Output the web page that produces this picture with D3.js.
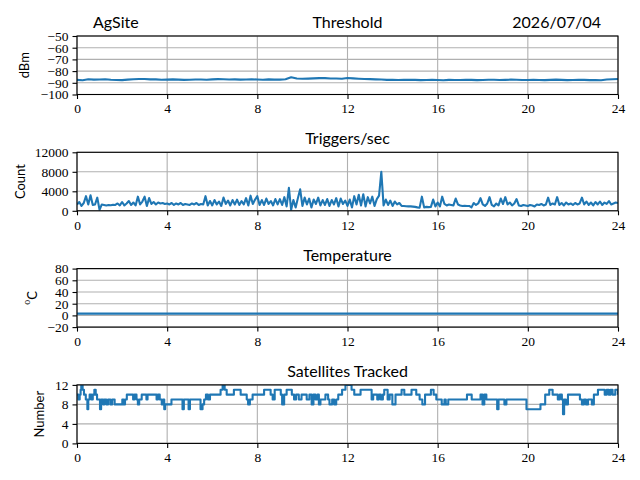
<!DOCTYPE html>
<html>
<head>
<meta charset="utf-8">
<script src="https://cdn.jsdelivr.net/npm/d3@7/dist/d3.min.js"></script>
<style>
  body { margin: 0; background: #fff; }
  svg { display: block; }
</style>
</head>
<body>
<div id="wrapper"></div>
<script>
// ---- data (hours of the day) ----
const siteName = "AgSite";
const dateLabel = "2026/07/04";
const hourTicks = [0, 4, 8, 12, 16, 20, 24];

// threshold, every 0.25 h
const thresholdStep = 0.25;
const thresholdValues = [
  -87.5, -87.8, -87.0, -87.3, -87.2, -87.0, -87.4, -87.6, -87.7, -87.3,
  -87.0, -86.7, -86.8, -87.1, -87.1, -87.4, -87.3, -87.1, -87.3, -87.5,
  -87.4, -87.2, -87.2, -87.4, -87.1, -86.9, -87.0, -87.2, -87.1, -87.3,
  -87.2, -87.0, -87.2, -87.4, -87.1, -87.3, -87.3, -86.9, -85.2, -86.3,
  -86.6, -86.4, -86.2, -86.0, -86.0, -86.3, -86.3, -86.6, -85.9, -86.2,
  -86.5, -86.8, -86.9, -87.1, -87.2, -87.5, -87.4, -87.6, -87.5, -87.4,
  -87.5, -87.7, -87.6, -87.4, -87.6, -87.8, -87.5, -87.6, -87.6, -87.4,
  -87.5, -87.7, -87.6, -87.4, -87.4, -87.6, -87.5, -87.3, -87.4, -87.6,
  -87.6, -87.4, -87.6, -87.7, -87.5, -87.3, -87.5, -87.7, -87.6, -87.4,
  -87.5, -87.7, -87.6, -87.8, -87.2, -87.0, -86.7
];

// triggers/sec, every 0.1 h
const triggerStep = 0.1;
const triggerValues = [
  1300, 1800, 1000, 1600, 3000, 1300, 3200, 1200, 1300, 2700,
  200, 1300, 1200, 1100, 1200, 1150, 1250, 1200, 1500, 1100,
  1800, 1100, 1500, 2000, 1200, 1700, 1100, 2900, 1300, 1900,
  2900, 1000, 2600, 1400, 1800, 1300, 1700, 1500, 1600, 1400,
  1500, 1300, 1600, 1200, 1500, 1300, 1600, 1200, 1400, 1300,
  1200, 1500, 1300, 1600, 1200, 1400, 1300, 3000, 1100, 2000,
  1100, 2200, 1300, 1900, 1000, 2700, 1400, 2100, 1100, 2200,
  1300, 2300, 1200, 2000, 1300, 2600, 1100, 3100, 1400, 2300,
  3000, 1200, 2200, 1200, 2500, 1400, 2000, 1100, 2400, 1300,
  2400, 1200, 2800, 900, 4700, 200, 2200, 700, 2600, 4400,
  1000, 2700, 1300, 2500, 700, 2300, 1400, 2700, 1100, 2200,
  1200, 2400, 1000, 2200, 1300, 2600, 900, 2500, 1400, 2100,
  1000, 2300, 700, 3000, 1300, 3300, 1100, 3400, 900, 2800,
  1500, 2900, 1000, 2400, 3100, 8000, 1100, 2300, 1200, 2100,
  1000, 1900, 1300, 1600, 1000, 1000, 950, 900, 900, 850,
  800, 700, 650, 2900, 700, 800, 750, 800, 2300, 900,
  1700, 900, 2900, 1400, 1100, 1300, 1200, 1100, 2500, 1300,
  1100, 1000, 1050, 1000, 1000, 700, 1600, 1200, 1500, 2600,
  1300, 1000, 1500, 2800, 1200, 900, 1500, 1100, 2500, 1400,
  2800, 1300, 1700, 1100, 1500, 2400, 1100, 1000, 1200, 1100,
  1000, 1200, 1100, 900, 1300, 1200, 1400, 1100, 1300, 2700,
  1200, 1500, 1300, 2800, 1200, 1600, 1100, 1700, 1300, 1500,
  1200, 1600, 1300, 1500, 2700, 1300, 1900, 1200, 1700, 1100,
  1800, 1300, 1900, 1200, 1700, 1400, 2000, 1300, 1500, 1700,
  1600
];

// temperature, hourly
const tempStep = 1;
const tempValues = [
  3, 3, 3, 3, 3, 3, 3, 3, 3, 3, 3, 3, 3,
  3, 3, 3, 3, 3, 3, 3, 3, 3, 3, 3, 3
];

// satellites tracked: [hour the count changes, count]
const satChanges = [
  [0.00, 10], [0.06, 9], [0.12, 10], [0.16, 11], [0.19, 12], [0.25, 11], [0.31, 10],
  [0.39, 9], [0.46, 7], [0.50, 9], [0.56, 10], [0.64, 9], [0.70, 10], [0.77, 11],
  [0.83, 10], [0.89, 9], [1.02, 7], [1.07, 9], [1.16, 8], [1.21, 9], [1.30, 8],
  [1.38, 9], [1.48, 8], [1.56, 9], [1.67, 8], [2.01, 9], [2.07, 8], [2.13, 9],
  [2.21, 10], [2.49, 9], [2.55, 10], [2.64, 9], [2.70, 8], [2.76, 9], [2.87, 10],
  [3.08, 9], [3.13, 10], [3.53, 9], [3.59, 10], [3.67, 9], [3.76, 8], [3.82, 9],
  [3.87, 7], [3.91, 8], [4.19, 9], [4.68, 7], [4.74, 9], [4.95, 7], [5.01, 9],
  [5.48, 7], [5.57, 8], [5.64, 9], [5.72, 10], [5.81, 9], [5.90, 10], [6.37, 11],
  [6.46, 12], [6.55, 11], [6.64, 10], [6.96, 11], [7.26, 10], [7.53, 9], [7.59, 8],
  [7.67, 9], [7.79, 10], [8.30, 11], [8.59, 10], [8.68, 9], [8.77, 11], [9.04, 10],
  [9.10, 8], [9.19, 10], [9.30, 11], [9.53, 10], [9.63, 9], [9.72, 10], [9.84, 9],
  [9.96, 10], [10.19, 9], [10.31, 10], [10.41, 8], [10.49, 10], [10.58, 9], [10.67, 10],
  [10.73, 8], [10.80, 9], [11.02, 10], [11.14, 9], [11.20, 8], [11.32, 9], [11.41, 8],
  [11.50, 9], [11.59, 10], [11.76, 11], [11.91, 12], [12.18, 11], [12.30, 10], [12.58, 11],
  [13.07, 9], [13.14, 10], [13.32, 9], [13.39, 10], [13.48, 9], [13.57, 10], [13.63, 11],
  [13.78, 9], [13.87, 10], [13.99, 8], [14.13, 10], [14.40, 11], [14.52, 10], [14.84, 11],
  [15.05, 10], [15.20, 9], [15.32, 8], [15.44, 10], [15.70, 11], [15.82, 10], [15.94, 9],
  [16.18, 8], [16.30, 9], [16.36, 8], [16.47, 9], [17.30, 10], [17.51, 9], [17.90, 10],
  [17.99, 8], [18.07, 10], [18.16, 9], [18.64, 7], [18.70, 9], [18.96, 8], [19.05, 9],
  [19.94, 7], [20.56, 8], [20.77, 10], [20.95, 11], [21.10, 10], [21.33, 9], [21.42, 10],
  [21.51, 9], [21.56, 6], [21.61, 9], [21.69, 8], [21.78, 10], [22.31, 9], [22.40, 8],
  [22.49, 9], [22.58, 8], [22.67, 9], [22.84, 8], [22.93, 10], [23.11, 11], [23.41, 10],
  [23.50, 11], [23.59, 10], [23.67, 11], [23.76, 10], [23.88, 11], [24.00, 10]
];

// ---- panels ----
const toSeries = (values, step) => values.map((v, i) => ({ h: i * step, v: v }));

const panels = [
  { title: "Threshold", ylabel: "dBm", domain: [-100, -50], ticks: [-100, -90, -80, -70, -60, -50],
    data: toSeries(thresholdValues, thresholdStep), labelX: 25, step: false },
  { title: "Triggers/sec", ylabel: "Count", domain: [0, 12000], ticks: [0, 4000, 8000, 12000],
    data: toSeries(triggerValues, triggerStep), labelX: 21, step: false },
  { title: "Temperature", ylabel: "°C", domain: [-20, 80], ticks: [-20, 0, 20, 40, 60, 80],
    data: toSeries(tempValues, tempStep), labelX: 31, step: false },
  { title: "Satellites Tracked", ylabel: "Number", domain: [0, 12], ticks: [0, 4, 8, 12],
    data: satChanges.map(d => ({ h: d[0], v: d[1] })), labelX: 40, step: true }
];

const dimension = {
  width: 640,
  height: 480,
  left: 77,
  right: 618,
  firstTop: 36,
  panelHeight: 58.5,
  panelGap: 116.3
};

const tickFont = "'Liberation Serif', 'Times New Roman', serif";
const sansFont = "Lato, 'Liberation Sans', sans-serif";
const lineColor = "#1f77b4";

const svg = d3.select("#wrapper").append("svg")
  .attr("width", dimension.width)
  .attr("height", dimension.height);

const xScaler = d3.scaleLinear()
  .domain([0, 24])
  .range([dimension.left, dimension.right]);

const fmt = v => (v < 0 ? "\u2212" + Math.abs(v) : String(v));

panels.forEach((p, i) => {
  const top = dimension.firstTop + i * dimension.panelGap;
  const bottom = top + dimension.panelHeight;

  const yScaler = d3.scaleLinear().domain(p.domain).range([bottom, top]);

  const g = svg.append("g");

  // grid
  g.append("g").selectAll("line").data(hourTicks).join("line")
    .attr("x1", d => xScaler(d)).attr("x2", d => xScaler(d))
    .attr("y1", top).attr("y2", bottom)
    .attr("stroke", "#b0b0b0").attr("stroke-width", 1.1);
  g.append("g").selectAll("line").data(p.ticks).join("line")
    .attr("x1", dimension.left).attr("x2", dimension.right)
    .attr("y1", d => yScaler(d)).attr("y2", d => yScaler(d))
    .attr("stroke", "#b0b0b0").attr("stroke-width", 1.1);

  // data line, clipped to the axes box
  const clipId = "clip" + i;
  svg.append("clipPath").attr("id", clipId).append("rect")
    .attr("x", dimension.left).attr("y", top)
    .attr("width", dimension.right - dimension.left).attr("height", dimension.panelHeight);

  const lineGenerator = d3.line()
    .x(d => xScaler(d.h))
    .y(d => yScaler(d.v))
    .curve(p.step ? d3.curveStepAfter : d3.curveLinear);

  g.append("path")
    .attr("d", lineGenerator(p.data))
    .attr("clip-path", `url(#${clipId})`)
    .attr("fill", "none")
    .attr("stroke", lineColor)
    .attr("stroke-width", 2.1)
    .attr("stroke-linejoin", "round");

  // axes
  const xAxis = d3.axisBottom(xScaler).tickValues(hourTicks).tickSize(4.5).tickPadding(3.5).tickFormat(d => d);
  const yAxis = d3.axisLeft(yScaler).tickValues(p.ticks).tickSize(4.5).tickPadding(4).tickFormat(fmt);

  const gx = g.append("g").attr("transform", `translate(0,${bottom})`).call(xAxis);
  const gy = g.append("g").attr("transform", `translate(${dimension.left},0)`).call(yAxis);
  [gx, gy].forEach(a => {
    a.select(".domain").remove();
    a.selectAll(".tick line").attr("stroke", "#000").attr("stroke-width", 1.1);
    a.selectAll(".tick text")
      .style("font-family", tickFont)
      .style("font-size", "13.5px")
      .attr("fill", "#000");
  });
  gx.selectAll(".tick text").attr("dy", "0.8em");

  // frame
  g.append("rect")
    .attr("x", dimension.left).attr("y", top)
    .attr("width", dimension.right - dimension.left).attr("height", dimension.panelHeight)
    .attr("fill", "none").attr("stroke", "#000").attr("stroke-width", 1.1);

  // title
  g.append("text")
    .attr("x", (dimension.left + dimension.right) / 2)
    .attr("y", top - 8)
    .attr("text-anchor", "middle")
    .style("font-family", sansFont)
    .style("font-size", "16px")
    .text(p.title);

  // y label
  const yl = g.append("text")
    .attr("text-anchor", "middle")
    .attr("transform", `translate(${p.labelX + 4},${(top + bottom) / 2})rotate(-90)`)
    .style("font-family", sansFont)
    .style("font-size", "13px");
  if (p.ylabel === "°C") {
    yl.append("tspan").text("o").style("font-family", tickFont).style("font-size", "10px").attr("dy", "-0.5em");
    yl.append("tspan").text("C").attr("dy", "0.5em");
  } else {
    yl.text(p.ylabel);
  }
});

// header texts
svg.append("text")
  .attr("x", 93).attr("y", 28)
  .style("font-family", sansFont).style("font-size", "16px")
  .text(siteName);

svg.append("text")
  .attr("x", 601).attr("y", 28)
  .attr("text-anchor", "end")
  .style("font-family", sansFont).style("font-size", "16px")
  .text(dateLabel);
</script>
</body>
</html>
